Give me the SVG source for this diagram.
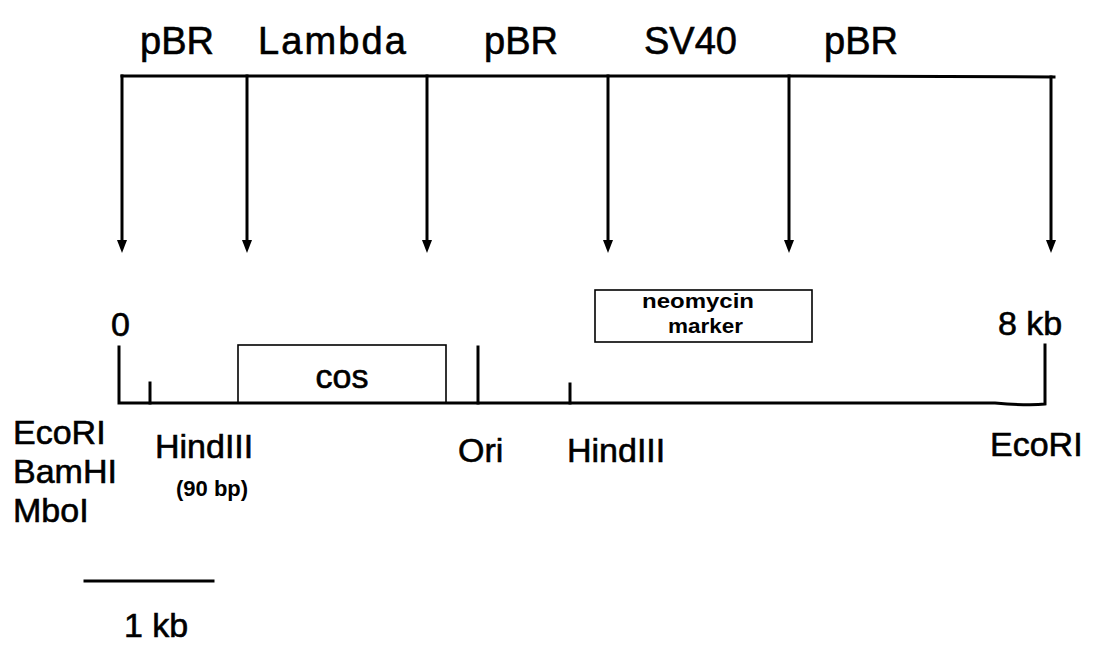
<svg xmlns="http://www.w3.org/2000/svg" width="1093" height="646" viewBox="0 0 1093 646">
<style>
text{font-family:"Liberation Sans",Arial,Helvetica,sans-serif;fill:#000;stroke:#000;stroke-width:0.6}
.big{font-size:38px}
.lbl{font-size:34px}
.sm{font-size:21px;font-weight:bold;stroke-width:0}
.ln{stroke:#000;stroke-width:3;fill:none;stroke-linecap:square}
.thin{stroke:#000;stroke-width:1.6;fill:none}
</style>
<defs>
<path id="ah" d="M-5,0 L5,0 L0,13 Z" fill="#000"/>
</defs>
<rect width="1093" height="646" fill="#fff"/>
<g id="connectors">
<path class="ln" d="M122,76 L800,76 L1054,77"/>
<line class="ln" x1="122" y1="76" x2="122" y2="240"/>
<line class="ln" x1="247" y1="76" x2="247" y2="240"/>
<line class="ln" x1="427" y1="76" x2="427" y2="240"/>
<line class="ln" x1="608" y1="76" x2="608" y2="240"/>
<line class="ln" x1="789" y1="76" x2="789" y2="240"/>
<line class="ln" x1="1051" y1="77" x2="1051" y2="240"/>
<use href="#ah" x="122" y="240"/>
<use href="#ah" x="247" y="240"/>
<use href="#ah" x="427" y="240"/>
<use href="#ah" x="608" y="240"/>
<use href="#ah" x="789" y="240"/>
<use href="#ah" x="1051" y="240"/>
</g>
<g id="segment-labels">
<text class="big" x="140" y="54">pBR</text>
<text class="big" x="258" y="54" textLength="148" lengthAdjust="spacing">Lambda</text>
<text class="big" x="484" y="54">pBR</text>
<text class="big" x="644" y="54">SV40</text>
<text class="big" x="824" y="54">pBR</text>
</g>
<g id="map">
<path class="ln" d="M119,347 L119,403 L995,403 Q1030,406 1045,404 L1045,345"/>
<line class="ln" x1="150" y1="383" x2="150" y2="403"/>
<line class="ln" x1="478" y1="347" x2="478" y2="403"/>
<line class="ln" x1="570" y1="384" x2="570" y2="403"/>
<text class="lbl" x="111" y="336">0</text>
<text class="lbl" x="998" y="335">8 kb</text>
</g>
<g id="cos">
<rect class="thin" x="238" y="345" width="208" height="58"/>
<text class="lbl" x="342" y="388" text-anchor="middle">cos</text>
</g>
<g id="neomycin">
<rect class="thin" x="595" y="290" width="217" height="52"/>
<text class="sm" x="642" y="308" textLength="112" lengthAdjust="spacingAndGlyphs">neomycin</text>
<text class="sm" x="668" y="333" textLength="75" lengthAdjust="spacingAndGlyphs">marker</text>
</g>
<g id="sites">
<text class="lbl" x="13" y="444">EcoRI</text>
<text class="lbl" x="13" y="483">BamHI</text>
<text class="lbl" x="13" y="522">MboI</text>
<text class="lbl" x="155" y="458">HindIII</text>
<text class="sm" x="176" y="496" style="font-size:22px">(90 bp)</text>
<text class="lbl" x="458" y="462">Ori</text>
<text class="lbl" x="567" y="462">HindIII</text>
<text class="lbl" x="990" y="456">EcoRI</text>
</g>
<g id="scale">
<line class="ln" x1="85" y1="581" x2="213" y2="581"/>
<text class="lbl" x="124" y="637">1 kb</text>
</g>
</svg>
